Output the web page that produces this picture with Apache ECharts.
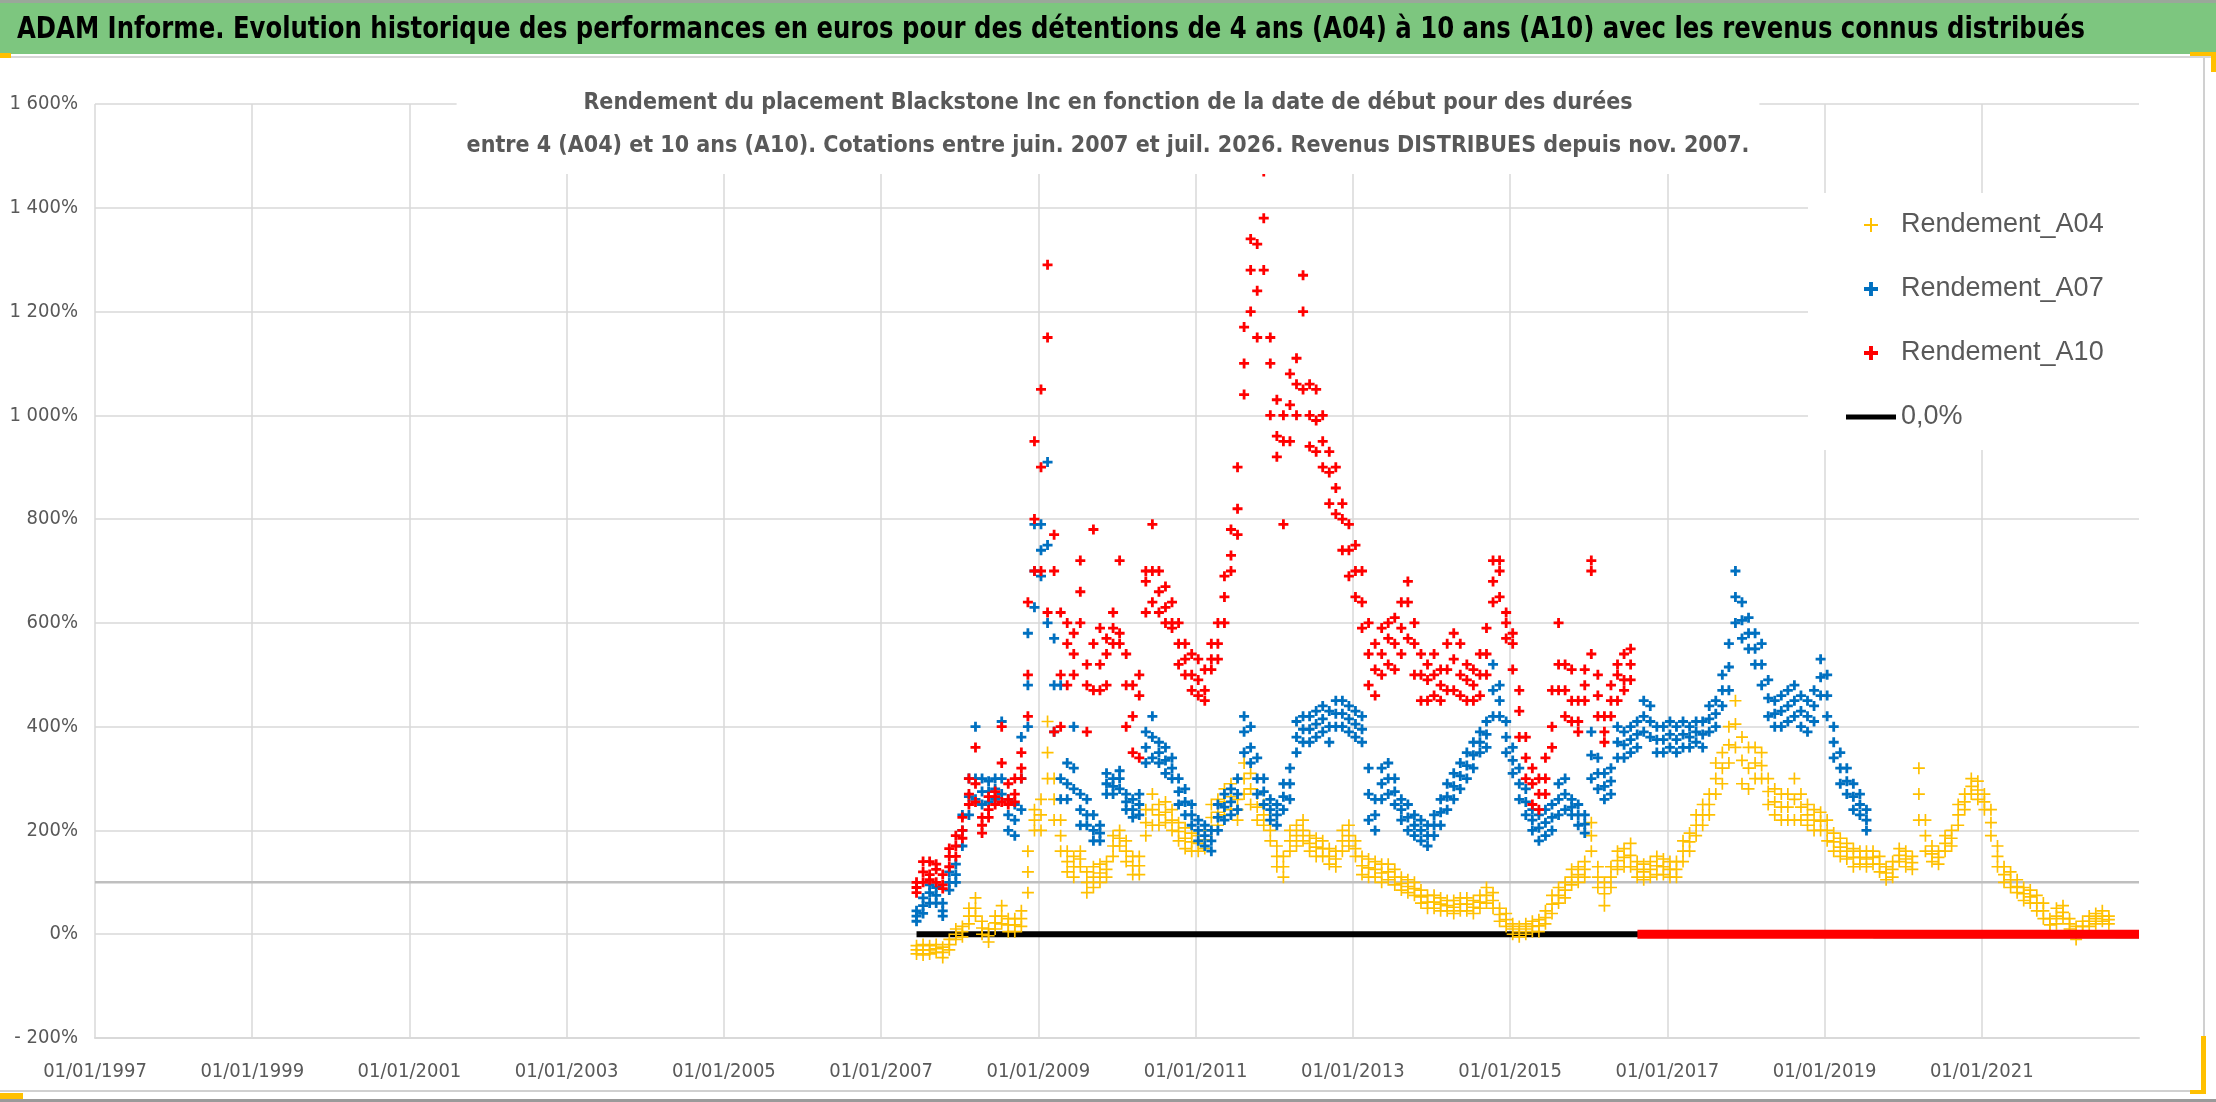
<!DOCTYPE html>
<html><head><meta charset="utf-8">
<script src="https://cdn.jsdelivr.net/npm/echarts@6/dist/echarts.min.js"></script>
<style>html,body{margin:0;padding:0;background:#fff}#c{width:2216px;height:1102px}</style>
</head><body><div id="c"></div>
<script>
const headerTitle = 'ADAM Informe. Evolution historique des performances en euros pour des détentions de 4 ans (A04) à 10 ans (A10) avec les revenus connus distribués';
const chartTitle = 'Rendement du placement Blackstone Inc en fonction de la date de début pour des durées\nentre 4 (A04) et 10 ans (A10). Cotations entre juin. 2007 et juil. 2026. Revenus DISTRIBUES depuis nov. 2007.';
const seriesNames = ['Rendement_A04', 'Rendement_A07', 'Rendement_A10', '0,0%'];
const xAxisStartYear = 1997, xAxisEndYear = 2023, xTickStepYears = 2;
const yMin = -200, yMax = 1600, yStep = 200;
// monthly sampling grid of start dates (decimal years) (%):
// band low, band middle, band high for each month
const firstDate = 2007.45;
const monthStep = 1 / 12;
const a04Low = [-38,-40,-38,-35,-45,-30,-10,-5,20,35,
0,-15,10,20,5,5,15,80,200,200,
300,220,160,120,110,130,80,90,100,110,
150,170,140,115,115,190,210,210,215,200,
180,165,160,160,165,200,210,230,240,220,
270,250,220,210,180,130,110,160,170,180,
160,150,150,135,130,160,170,150,115,110,
110,100,105,95,85,80,75,60,50,50,
45,45,40,45,45,40,50,60,50,25,
15,0,-5,0,5,5,20,40,60,70,
95,100,110,160,90,55,90,125,130,130,
110,105,110,115,115,110,110,140,160,190,
210,230,270,290,330,360,290,280,300,300,
250,230,220,220,220,220,210,200,200,180,
160,150,145,130,135,130,135,120,105,110,
140,130,125,220,160,140,135,160,170,210,
240,270,260,240,190,130,100,90,80,65,
60,45,30,5,20,30,10,-10,5,15,
20,25,20];
const a04Mid = [-30,-30,-30,-28,-35,-20,0,5,35,50,
12,-3,22,35,18,18,30,120,220,230,
350,260,190,140,130,145,100,110,118,125,
170,185,160,132,132,215,240,230,235,220,
198,185,178,175,182,225,235,255,265,240,
300,280,245,230,200,150,130,180,190,200,
175,168,165,150,145,180,190,165,132,128,
125,118,120,110,98,92,88,72,62,62,
58,55,52,58,58,52,62,75,65,38,
28,10,5,10,15,16,32,58,75,85,
110,115,125,190,110,78,110,142,148,152,
125,120,125,132,130,125,125,160,178,210,
230,250,300,320,365,405,335,320,330,325,
275,255,245,245,260,245,230,220,218,200,
178,168,160,148,148,145,148,135,118,125,
152,145,138,270,190,155,148,175,185,230,
255,285,278,255,215,150,115,105,92,78,
72,60,45,18,35,42,20,2,15,25,
30,35,28];
const a04High = [-22,-20,-22,-20,-25,-10,10,15,50,70,
25,10,35,55,30,30,45,160,240,260,
410,300,220,160,150,160,120,130,135,140,
190,200,180,150,150,240,270,250,255,240,
215,205,195,190,200,250,260,280,290,260,
330,310,270,250,220,170,150,200,210,220,
190,185,180,165,160,200,210,180,150,145,
140,135,135,125,110,105,100,85,75,75,
70,65,65,70,70,65,75,90,80,50,
40,20,15,20,25,28,45,75,90,100,
125,130,140,215,130,100,130,160,165,175,
140,135,140,150,145,140,140,180,195,230,
250,270,330,350,400,450,380,360,360,350,
300,280,270,270,300,270,250,240,235,220,
195,185,175,165,160,160,160,150,130,140,
165,160,150,320,220,170,160,190,200,250,
270,300,295,270,240,170,130,120,105,90,
85,75,60,30,50,55,30,15,25,35,
40,45,35];
const a07Low = [25,40,60,60,35,85,100,170,230,260,
250,255,260,270,200,190,240,400,630,690,
600,390,260,260,280,210,210,180,180,270,
270,280,240,225,230,330,340,330,310,300,
250,230,210,180,170,160,200,220,230,240,
350,330,270,250,220,210,240,260,350,370,
370,380,390,370,400,400,390,380,370,220,
200,260,270,250,220,200,190,180,170,190,
210,240,260,280,300,320,350,360,420,420,
350,310,260,230,200,180,190,200,230,240,
230,210,195,300,280,260,270,340,340,350,
360,390,380,350,350,360,350,360,360,370,
360,390,400,440,470,600,570,550,520,480,
420,400,400,410,420,400,390,410,460,420,
340,290,270,240,230,200];
const a07Mid = [35,55,80,75,45,100,115,200,265,300,
275,275,280,300,230,220,300,480,700,740,
750,480,300,290,320,240,230,200,195,290,
285,300,255,240,250,360,380,350,335,320,
275,255,230,200,190,180,225,245,255,270,
390,360,300,275,240,230,265,290,380,395,
395,405,415,400,425,425,415,405,395,270,
230,290,300,275,240,225,210,200,190,210,
235,265,285,305,325,345,370,385,470,450,
380,335,290,255,220,205,215,225,260,270,
245,230,212,345,310,285,295,370,365,375,
385,420,410,375,375,385,375,385,380,390,
385,415,425,470,515,650,605,580,550,520,
455,425,430,440,450,430,420,440,495,460,
370,320,295,265,250,220];
const a07High = [45,70,95,90,60,120,135,230,300,400,
300,295,300,410,260,250,380,580,790,790,
910,570,480,330,400,270,260,230,210,310,
300,315,270,260,270,390,420,370,360,340,
300,280,250,220,210,200,250,270,280,300,
420,400,340,300,260,250,290,320,410,420,
420,430,440,430,450,450,440,430,420,320,
260,320,330,300,260,250,230,220,210,230,
260,290,310,330,350,370,390,410,520,480,
410,360,320,280,240,230,240,250,290,300,
260,250,230,390,340,310,320,400,390,400,
410,450,440,400,400,410,400,410,400,410,
410,440,450,500,560,700,640,610,580,560,
490,450,460,470,480,460,450,470,530,500,
400,350,320,290,270,240];
const a10Low = [80,100,105,100,88,130,150,185,250,255,
195,225,250,255,250,255,300,420,700,700,
620,390,400,480,500,600,390,470,470,480,
560,560,400,350,340,620,640,620,600,590,
520,500,470,460,450,510,530,600,700,770,
1040,1200,1150,1280,1000,920,790,950,1000,1050,
940,930,900,830,810,740,690,650,590,480,
460,500,520,510,540,570,500,450,450,460,
450,470,470,460,450,450,460,500,640,650,
570,510,380,300,250,240,270,360,470,420,
410,390,450,540,420,370,420,450,470,490];
const a10Mid = [90,120,115,125,95,150,170,200,270,290,
210,240,265,330,260,270,320,500,800,900,
1150,700,500,560,540,660,480,560,520,540,
590,580,480,420,460,680,700,660,630,600,
560,530,500,490,470,530,560,650,730,820,
1100,1280,1240,1380,1100,960,950,1020,1060,1200,
1000,990,950,890,860,800,740,700,640,540,
510,540,570,560,590,640,560,500,490,500,
480,510,530,500,490,480,500,540,680,700,
600,560,430,340,290,270,300,400,520,470,
450,410,480,700,460,390,450,500,490,520];
const a10High = [100,140,140,135,115,165,190,225,300,360,
225,265,275,400,290,300,350,640,950,1050,
1290,770,620,600,580,720,520,780,590,570,
620,720,540,480,500,700,790,700,670,640,
600,560,540,530,510,560,600,690,780,900,
1170,1340,1330,1470,1150,1030,1000,1080,1110,1270,
1060,1050,1000,930,900,830,790,750,700,600,
560,590,600,610,640,680,600,540,520,540,
510,560,580,560,520,510,540,590,720,720,
620,580,470,380,320,300,340,470,600,520,
510,450,510,720,500,420,480,520,540,550];
// rows after the end of each series' data are plotted at 0 by the source sheet
const a04ZeroTail = [2022.70, 2023.0];
const a07ZeroTail = [2019.62, 2023.0];
const a10ZeroTail = [2016.62, 2023.0];
const zeroLineSpan = [2007.45, 2023.0];
const refLevel = 100;

const FN = "'DejaVu Sans Condensed','Liberation Sans Narrow',sans-serif";
const FW = "'Liberation Sans',Arimo,Arial,sans-serif";
const plusThick = 'path://M3.6,0H6.4V3.6H10V6.4H6.4V10H3.6V6.4H0V3.6H3.6Z';
const plusThin = 'path://M4.3,0H5.7V4.3H10V5.7H5.7V10H4.3V5.7H0V4.3H4.3Z';
const barIcon = 'path://M0,0H48V5H0Z';

function band(low, mid, high) {
  const pts = [];
  for (let i = 0; i < low.length; i++) {
    const x = firstDate + i * monthStep - xAxisStartYear;
    pts.push([x, low[i]], [x, mid[i]], [x, high[i]]);
  }
  return pts;
}
function span(s, level) { return [[s[0] - xAxisStartYear, level], [s[1] - xAxisStartYear, level]]; }
function pct(v) {
  const a = Math.abs(v);
  const s = a >= 1000 ? Math.floor(a / 1000) + '\u00a0' + String(a % 1000).padStart(3, '0') : String(a);
  return (v < 0 ? '-\u00a0' : '') + s + '%';
}

// header text is condensed horizontally to the width it occupies in the source
const headerFont = "bold 31px 'DejaVu Sans Condensed', sans-serif";
const headerTargetWidth = 2068;
const ctx = document.createElement('canvas').getContext('2d');
ctx.font = headerFont;
const headerScale = Math.min(1, headerTargetWidth / ctx.measureText(headerTitle).width);

const chart = echarts.init(document.getElementById('c'), null, { renderer: 'canvas' });
chart.setOption({
  animation: false,
  backgroundColor: '#ffffff',
  graphic: [
    { type: 'rect', z: -1, shape: { x: 0, y: 0, width: 2216, height: 3 }, style: { fill: '#9aa79a' } },
    { type: 'rect', z: -1, shape: { x: 0, y: 3, width: 2216, height: 51 }, style: { fill: '#7dc67f' } },
    { type: 'rect', z: -1, shape: { x: 0, y: 56, width: 2216, height: 2 }, style: { fill: '#d6d6d6' } },
    { type: 'rect', z: -1, shape: { x: 0, y: 53, width: 11, height: 5 }, style: { fill: '#ffc000' } },
    { type: 'rect', z: -1, shape: { x: 2190, y: 52, width: 26, height: 4 }, style: { fill: '#ffc000' } },
    { type: 'rect', z: -1, shape: { x: 2211, y: 52, width: 5, height: 20 }, style: { fill: '#ffc000' } },
    { type: 'rect', z: -1, shape: { x: 2203, y: 58, width: 2, height: 1034 }, style: { fill: '#d0d0d0' } },
    { type: 'rect', z: -1, shape: { x: 0, y: 1090, width: 2205, height: 2 }, style: { fill: '#d0d0d0' } },
    { type: 'rect', z: -1, shape: { x: 2201, y: 1036, width: 5, height: 58 }, style: { fill: '#ffc000' } },
    { type: 'rect', z: -1, shape: { x: 2190, y: 1090, width: 16, height: 4 }, style: { fill: '#ffc000' } },
    { type: 'rect', z: -1, shape: { x: 0, y: 1093, width: 23, height: 6 }, style: { fill: '#ffc000' } },
    { type: 'rect', z: -1, shape: { x: 0, y: 1099, width: 2216, height: 3 }, style: { fill: '#9a9a9a' } },
    { type: 'text', z: 10, x: 17, y: 30, scaleX: headerScale, scaleY: 1,
      style: { text: headerTitle, font: headerFont, fill: '#000000', align: 'left', verticalAlign: 'middle' } }
  ],
  title: {
    text: chartTitle, left: 'center', top: 78, padding: [4, 10, 6, 10], backgroundColor: '#ffffff',
    textStyle: { fontFamily: FN, fontWeight: 'bold', fontSize: 23, lineHeight: 43, color: '#595959' }
  },
  legend: {
    orient: 'vertical', left: 1808, top: 193, padding: [17, 40, 18, 38], backgroundColor: '#ffffff',
    itemWidth: 50, itemHeight: 14, itemGap: 34, symbolKeepAspect: true,
    textStyle: { fontFamily: FW, fontSize: 27, lineHeight: 30, color: '#595959' },
    data: [
      { name: seriesNames[0], icon: plusThin },
      { name: seriesNames[1], icon: plusThick },
      { name: seriesNames[2], icon: plusThick },
      { name: seriesNames[3], icon: barIcon }
    ]
  },
  grid: { left: 95, right: 77, top: 104, bottom: 64, containLabel: false },
  xAxis: {
    type: 'value', min: 0, max: xAxisEndYear - xAxisStartYear, interval: xTickStepYears,
    axisLine: { show: true, onZero: false, lineStyle: { color: '#d9d9d9', width: 2 } },
    axisTick: { show: false },
    splitLine: { show: true, showMaxLine: false, lineStyle: { color: '#d9d9d9', width: 1.5 } },
    axisLabel: { showMaxLabel: false, margin: 24, fontFamily: FN, fontSize: 20, color: '#595959',
      formatter: v => (v >= xAxisEndYear - xAxisStartYear - 0.5) ? '' : '01/01/' + Math.round(xAxisStartYear + v) }
  },
  yAxis: {
    type: 'value', min: yMin, max: yMax, interval: yStep,
    axisLine: { show: false }, axisTick: { show: false },
    splitLine: { show: true, lineStyle: { color: '#d9d9d9', width: 1.5 } },
    axisLabel: { margin: 17, fontFamily: FN, fontSize: 20, color: '#595959', formatter: pct }
  },
  series: [
    { name: 'niveau100', type: 'line', silent: true, symbol: 'none', z: 1, data: span([xAxisStartYear, xAxisEndYear], refLevel),
      lineStyle: { color: '#bfbfbf', width: 2.5 } },
    { name: seriesNames[3], type: 'line', symbol: 'none', z: 2, data: span(zeroLineSpan, 0),
      itemStyle: { color: '#000' }, lineStyle: { color: '#000', width: 6 } },
    { name: seriesNames[0], type: 'scatter', z: 3, symbol: plusThin, symbolSize: 12,
      itemStyle: { color: '#ffc000', opacity: 1 }, data: band(a04Low, a04Mid, a04High) },
    { name: 'A04_zero', type: 'line', symbol: 'none', z: 3, data: span(a04ZeroTail, 0), lineStyle: { color: '#ffc000', width: 8 } },
    { name: seriesNames[1], type: 'scatter', z: 4, symbol: plusThick, symbolSize: 10,
      itemStyle: { color: '#0070c0', opacity: 1 }, data: band(a07Low, a07Mid, a07High) },
    { name: 'A07_zero', type: 'line', symbol: 'none', z: 4, data: span(a07ZeroTail, 0), lineStyle: { color: '#0070c0', width: 8 } },
    { name: seriesNames[2], type: 'scatter', z: 5, symbol: plusThick, symbolSize: 10,
      itemStyle: { color: '#ff0000', opacity: 1 }, data: band(a10Low, a10Mid, a10High) },
    { name: 'A10_zero', type: 'line', symbol: 'none', z: 5, data: span(a10ZeroTail, 0), lineStyle: { color: '#ff0000', width: 9 } }
  ]
});
</script></body></html>
